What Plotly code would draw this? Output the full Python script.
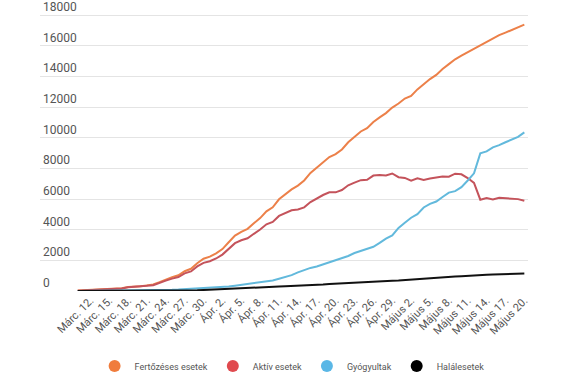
import plotly.graph_objects as go
import pandas as pd

dates = pd.date_range("2020-03-10", "2020-05-20", freq="D")

fertozeses = [25, 49, 59, 89, 123, 131, 158, 184, 260, 277, 308, 367, 433, 576, 762, 906, 1029, 1292, 1452, 1815, 2109, 2245,
              2460, 2738, 3183, 3613, 3864, 4057, 4417, 4761, 5202, 5467, 5990, 6300, 6633, 6879, 7216, 7707, 8067, 8418, 8746, 8936,
              9242, 9710, 10096, 10417, 10635, 11036, 11339, 11616, 11978, 12240,
              12567, 12732, 13163, 13512, 13837, 14107, 14499, 14811, 15131, 15362, 15588, 15778, 16002, 16247, 16437, 16704,
              16871, 17036, 17191, 17387]

gyogyultak = [3, 6, 6, 9, 9, 9, 9, 16, 19, 20, 25, 31, 52, 64, 73, 79, 94, 115, 139, 169, 206, 220,
              252, 266, 294, 344, 398, 441, 485, 528, 601, 684, 797, 911, 1039, 1217, 1381, 1508, 1597, 1730, 1846, 2017,
              2153, 2286, 2478, 2614, 2797, 2890, 3141, 3423, 3631, 4116,
              4459, 4784, 5019, 5454, 5686, 5840, 6141, 6423, 6523, 6777, 7213, 7685, 8987, 9115, 9383, 9521,
              9712, 9882, 10062, 10356]

halalesetek = [0, 0, 0, 0, 0, 0, 0, 0, 0, 0, 0, 0, 3, 7, 11, 17, 23, 26, 37, 43, 65, 82,
               85, 94, 133, 146, 151, 176, 197, 220, 248, 270, 291, 315, 326, 344, 372, 392, 411, 421, 451, 478,
               498, 524, 545, 567, 575, 608, 631, 650, 675, 693,
               726, 744, 788, 803, 812, 851, 888, 927, 948, 967, 1001, 1031, 1053, 1068, 1076, 1094,
               1107, 1120, 1130, 1141]

aktiv = [22, 43, 53, 80, 114, 122, 149, 168, 241, 257, 283, 336, 378, 505, 678, 810, 912, 1151, 1276, 1603, 1838, 1943,
         2123, 2378, 2756, 3123, 3315, 3440, 3735, 4013, 4353, 4513, 4902, 5074, 5268, 5318, 5463, 5807, 6059, 6267, 6449, 6441,
         6591, 6900, 7073, 7236, 7263, 7538, 7567, 7543, 7672, 7431,
         7382, 7204, 7356, 7255, 7339, 7416, 7470, 7461, 7660, 7618, 7374, 7062, 5962, 6064, 5978, 6089,
         6052, 6034, 5999, 5890]

tick_dates = ["2020-03-12", "2020-03-15", "2020-03-18", "2020-03-21", "2020-03-24", "2020-03-27", "2020-03-30",
              "2020-04-02", "2020-04-05", "2020-04-08", "2020-04-11", "2020-04-14", "2020-04-17", "2020-04-20",
              "2020-04-23", "2020-04-26", "2020-04-29", "2020-05-02", "2020-05-05", "2020-05-08", "2020-05-11",
              "2020-05-14", "2020-05-17", "2020-05-20"]
tick_labels = ["Márc. 12.", "Márc. 15.", "Márc. 18.", "Márc. 21.", "Márc. 24.", "Márc. 27.", "Márc. 30.",
               "Ápr. 2.", "Ápr. 5.", "Ápr. 8.", "Ápr. 11.", "Ápr. 14.", "Ápr. 17.", "Ápr. 20.",
               "Ápr. 23.", "Ápr. 26.", "Ápr. 29.", "Május 2.", "Május 5.", "Május 8.", "Május 11.",
               "Május 14.", "Május 17.", "Május 20."]
y_ticks = [0, 2000, 4000, 6000, 8000, 10000, 12000, 14000, 16000, 18000]
y_tick_labels = ["0", "2000", "4000", "6000", "8000", "10000", "12000", "14000", "16000", "18000"]

series = [
    ("Fertőzéses esetek", fertozeses, "#ec8049", "#f07c3c"),
    ("Aktív esetek", aktiv, "#c4535b", "#e04a4f"),
    ("Gyógyultak", gyogyultak, "#62b9dc", "#5ab7e6"),
    ("Halálesetek", halalesetek, "#111111", "#000000"),
]

fig = go.Figure()
for name, vals, lc, mc in series:
    fig.add_trace(go.Scatter(x=dates, y=vals, mode="lines", name=name,
                             line=dict(color=lc, width=2), showlegend=False))
for name, vals, lc, mc in series:
    fig.add_trace(go.Scatter(x=[None], y=[None], mode="markers", name=name,
                             marker=dict(color=mc, size=12), showlegend=True))

fig.update_layout(
    width=575, height=387,
    margin=dict(l=40, r=47, t=0, b=96, autoexpand=False),
    paper_bgcolor="white", plot_bgcolor="white",
    font=dict(family="Roboto, sans-serif", color="#555555"),
    xaxis=dict(
        type="date",
        range=["2020-03-04", "2020-05-20 14:00"],
        tickmode="array", tickvals=tick_dates, ticktext=tick_labels,
        tickangle=-45, tickfont=dict(size=11, color="#555555"),
        showgrid=False, showline=False, zeroline=False, ticks="",
        automargin=False,
    ),
    yaxis=dict(
        range=[0, 19000],
        tickmode="array", tickvals=y_ticks, ticktext=y_tick_labels,
        ticklabelposition="inside top",
        tickfont=dict(size=12, color="#555555"),
        showgrid=True, gridcolor="#e4e4e4", gridwidth=1,
        zeroline=False, showline=False, ticks="",
        automargin=False,
    ),
    legend=dict(orientation="h", xref="container", yref="container",
                x=0.508, xanchor="center", y=0.054, yanchor="middle",
                font=dict(size=9, color="#555555"), itemwidth=30),
)

fig.write_html("out.html", config={"displayModeBar": False},
               post_script="document.body.style.margin='0px';")
